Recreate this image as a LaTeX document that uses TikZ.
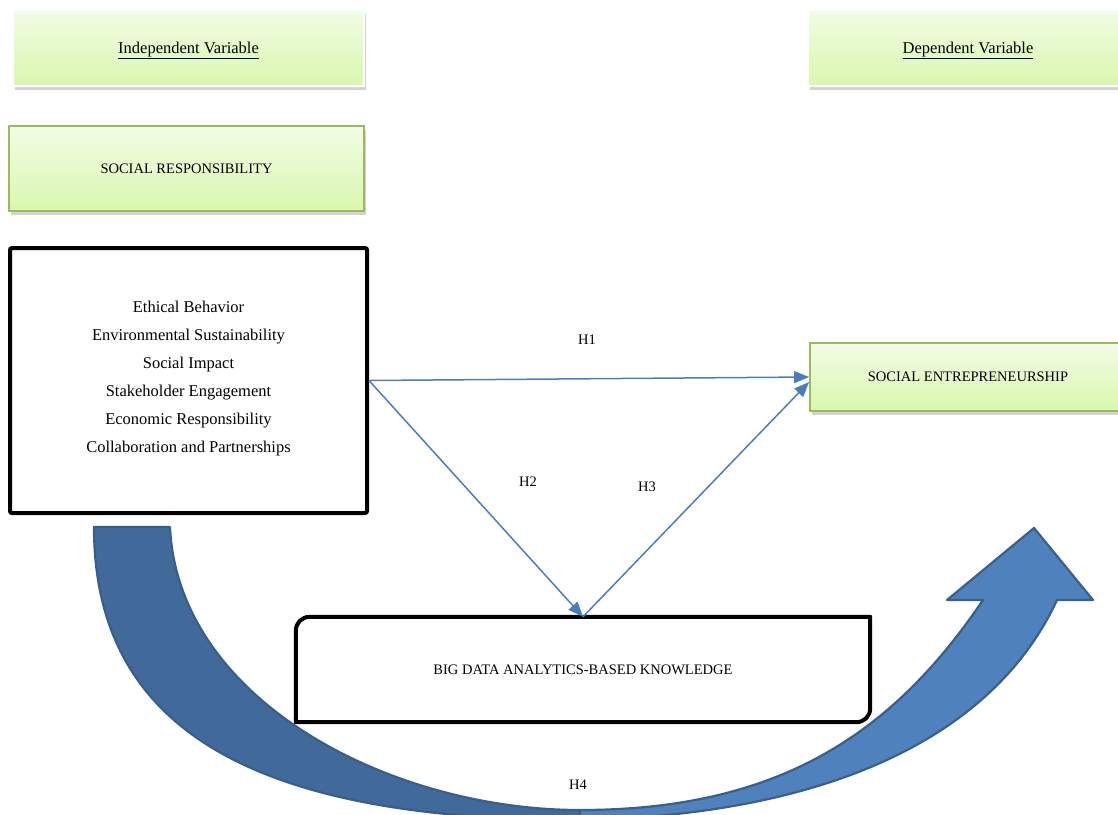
\documentclass[tikz,border=0pt]{standalone}
\usepackage{fontspec}
\setmainfont{Liberation Serif}
\usetikzlibrary{arrows.meta,shadows,calc}
\definecolor{gtop}{HTML}{F2FCE6}
\definecolor{gbot}{HTML}{D9F7AE}
\definecolor{gborder}{HTML}{9BBB59}
\definecolor{arrowblue}{HTML}{4A7EBB}
\definecolor{darkband}{HTML}{41699A}
\definecolor{darkedge}{HTML}{395E8C}
\definecolor{lightband}{HTML}{4F81BD}
\definecolor{lightedge}{HTML}{3A5F8E}
\begin{document}
\begin{tikzpicture}[x=1pt,y=-1pt,
  capsfont/.style={font=\fontsize{14.5}{17}\selectfont},
  mixfont/.style={font=\fontsize{16.5}{28}\selectfont},
  greenbox/.style={rectangle, inner sep=0pt, top color=gtop, bottom color=gbot,
    draw=gborder, line width=1.8pt,
    drop shadow={shadow xshift=1.5pt,shadow yshift=-3.5pt,opacity=0.35}},
  headbox/.style={greenbox, draw=white, line width=2pt},
  blackbox/.style={rectangle, inner sep=0pt, draw=black, fill=white, line width=4pt, rounded corners=2pt},
  bdbox/.style={rectangle, inner sep=0pt, fill=white},
  bdborder/.style={draw=black, line width=4pt, line join=round},
  hyp/.style={draw=arrowblue, line width=1.5pt, -{Triangle[length=15pt,width=12pt]}},
  hlabel/.style={capsfont, inner sep=0pt},
  darkpart/.style={fill=darkband, draw=darkedge, line width=2.2pt, line join=round},
  lightpart/.style={fill=lightband, draw=lightedge, line width=2.2pt, line join=round}]
\useasboundingbox (0,0) rectangle (1118,814);
\clip (0,0) rectangle (1118,814);

% header boxes
\node[headbox, minimum width=351pt, minimum height=76pt] (iv) at (188.5,48) {};
\node[font=\fontsize{16.5}{20}\selectfont, inner sep=0pt, anchor=base] (ivt) at (188.5,53) {\underline{Independent Variable}};
\node[headbox, minimum width=320pt, minimum height=76pt] (dv) at (968,48) {};
\node[font=\fontsize{16.5}{20}\selectfont, inner sep=0pt, anchor=base] (dvt) at (968,53) {\underline{Dependent Variable}};

% social responsibility
\node[greenbox, capsfont, minimum width=355pt, minimum height=85pt] (sr) at (186.5,168.5) {SOCIAL RESPONSIBILITY};

% dimensions list
\node[blackbox, minimum width=357pt, minimum height=265pt] (lst) at (188.5,380.5) {};
\node[mixfont, align=center, inner sep=0pt] (items) at (188.5,379) {Ethical Behavior\\Environmental Sustainability\\Social Impact\\Stakeholder Engagement\\Economic Responsibility\\Collaboration and Partnerships};

% social entrepreneurship
\node[greenbox, capsfont, minimum width=316pt, minimum height=68pt] (se) at (968,377) {SOCIAL ENTREPRENEURSHIP};

% curved H4 arrow (drawn as a shape)
\path[darkpart] (94,527) .. controls (94,727) and (250,820) .. (580,820)
  -- (580,810) .. controls (390,810) and (178,700) .. (170,527) -- cycle;
\path[lightpart] (580,810) .. controls (780,810) and (893,733) .. (983,600)
  -- (947,600) -- (1034,528) -- (1093,600) -- (1057,600)
  .. controls (994,736) and (830,815) .. (580,820) -- cycle;

% big data box
\node[bdbox, capsfont, minimum width=574pt, minimum height=105pt] (bd) at (583,669.5) {BIG DATA ANALYTICS-BASED KNOWLEDGE};
\draw[bdborder] (bd.south west) -- ($(bd.north west)+(0,14)$)
  .. controls ($(bd.north west)+(0,6)$) and ($(bd.north west)+(6,0)$) .. ($(bd.north west)+(14,0)$)
  -- (bd.north east) -- ($(bd.south east)+(0,-14)$)
  .. controls ($(bd.south east)+(0,-6)$) and ($(bd.south east)+(-6,0)$) .. ($(bd.south east)+(-14,0)$)
  -- cycle;

% hypotheses connectors
\draw[hyp] (lst.east) -- (se.west);
\draw[hyp] (lst.east) -- (bd.north);
\draw[hyp] (bd.north) -- ($(se.west)+(0,5)$);

\node[hlabel] (h1) at (587,340) {H1};
\node[hlabel] (h2) at (528,482) {H2};
\node[hlabel] (h3) at (647,487) {H3};
\node[hlabel] (h4) at (578,785) {H4};
\end{tikzpicture}
\end{document}
